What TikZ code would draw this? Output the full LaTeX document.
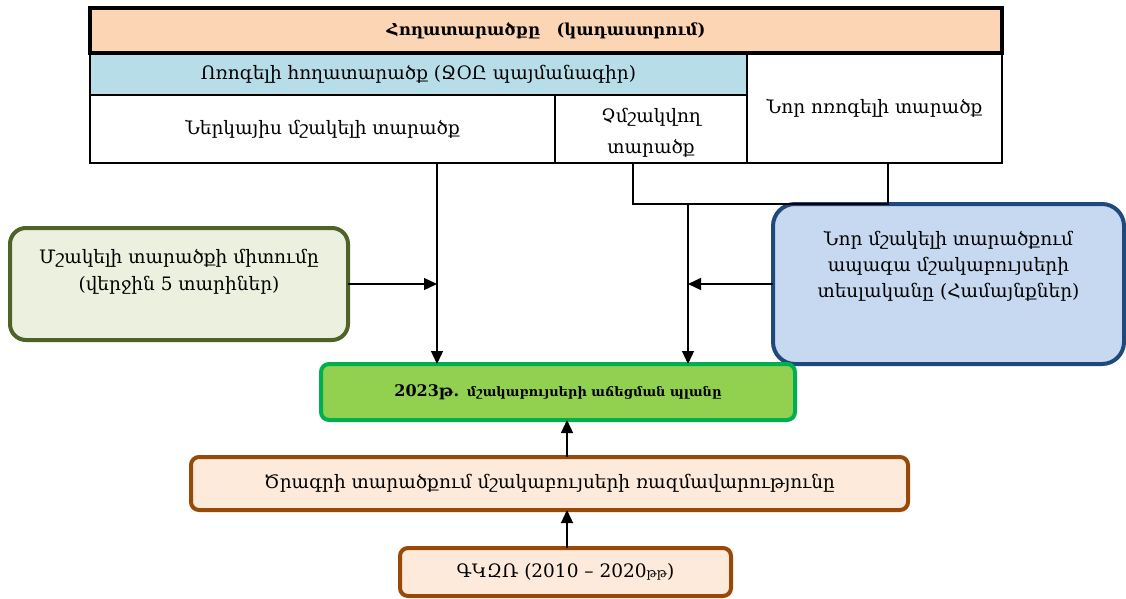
\documentclass[tikz,border=0pt]{standalone}
\usepackage{fontspec}
\setmainfont{DejaVu Serif}
\usetikzlibrary{arrows.meta}
\definecolor{peach}{HTML}{FCD5B4}
\definecolor{lblue}{HTML}{B7DEE8}
\definecolor{trendfill}{HTML}{EBF1DE}
\definecolor{trenddraw}{HTML}{4F6228}
\definecolor{visfill}{HTML}{C6D9F1}
\definecolor{visdraw}{HTML}{1F497D}
\definecolor{planfill}{HTML}{92D050}
\definecolor{plandraw}{HTML}{00B050}
\definecolor{stratfill}{HTML}{FDEADA}
\definecolor{stratdraw}{HTML}{984807}
\begin{document}
\begin{tikzpicture}[x=1pt,y=-1pt,
  every node/.style={inner sep=0pt,outer sep=0pt,font=\fontsize{18.5}{26.5}\selectfont},
  cell/.style={draw=black,line width=1.2pt,anchor=north west,align=center},
  rbox/.style={anchor=north west,line width=4pt,rounded corners=10pt,align=center},
  arr/.style={line width=1.3pt,-{Triangle[length=13pt,width=12pt]}},
  conn/.style={line width=1.3pt}]
\useasboundingbox (0,0) rectangle (1126,599);
% table
\node[cell,fill=lblue,minimum width=657pt,minimum height=42pt] (irr) at (90,53) {Ոռոգելի հողատարածք (ՋՕԸ պայմանագիր)};
\node[cell,minimum width=255pt,minimum height=110pt] (newirr) at (747,53) {Նոր ոռոգելի տարածք};
\node[cell,minimum width=465pt,minimum height=68pt] (cur) at (90,95) {Ներկայիս մշակելի տարածք};
\node[cell,minimum width=192pt,minimum height=68pt] (uncult) at (555,95) {};
\node[align=center,font=\fontsize{18.5}{31}\selectfont] (unculttext) at ([yshift=-4pt]uncult.center) {Չմշակվող\\տարածք};
\node[cell,line width=4pt,fill=peach,minimum width=912pt,minimum height=45pt,font=\fontsize{16.5}{20}\selectfont\bfseries] (hdr) at (90,8) {Հողատարածքը\quad (կադաստրում)};
% boxes
\node[rbox,draw=trenddraw,fill=trendfill,rounded corners=16pt,minimum width=338pt,minimum height=112pt] (trend) at (10,228) {};
\node[align=center,font=\fontsize{18.5}{27}\selectfont] (trendtext) at ([yshift=12pt]trend.center) {Մշակելի տարածքի միտումը\\(վերջին 5 տարիներ)};
\node[rbox,draw=visdraw,fill=visfill,rounded corners=22pt,minimum width=351pt,minimum height=160pt] (vision) at (773,204) {};
\node[align=center,font=\fontsize{18.5}{26}\selectfont] (vistext) at ([yshift=18pt]vision.center) {Նոր մշակելի տարածքում\\ապագա մշակաբույսերի\\տեսլականը (Համայնքներ)};
\node[rbox,draw=plandraw,fill=planfill,rounded corners=8pt,minimum width=474pt,minimum height=56pt] (plan) at (321,364) {{\bfseries\fontsize{16}{20}\selectfont 2023թ.} {\bfseries\fontsize{13}{16}\selectfont մշակաբույսերի աճեցման պլանը}};
\node[rbox,draw=stratdraw,fill=stratfill,rounded corners=8pt,minimum width=717pt,minimum height=53pt] (strat) at (191,457) {Ծրագրի տարածքում մշակաբույսերի ռազմավարությունը};
\node[rbox,draw=stratdraw,fill=stratfill,rounded corners=8pt,minimum width=331pt,minimum height=48pt] (gkzr) at (400,548) {ԳԿԶՌ (2010 – 2020{\fontsize{13}{15}\selectfont թթ})};
% connectors
\path (cur.south west) ++(347,0) coordinate (p1);
\draw[arr] (p1) -- (p1 |- plan.north);
\path (uncult.south west) ++(78,0) coordinate (b1);
\path (newirr.south west) ++(141,0) coordinate (b2);
\coordinate (j) at (688,204);
\draw[conn] (b1) |- (j) -| (b2);
\draw[arr] (j) -- (j |- plan.north);
\draw[arr] (trend.east) -- (trend.east -| p1);
\draw[arr] (vision.west) -- (vision.west -| j);
\coordinate (c) at (567,0);
\draw[arr] (c |- gkzr.north) -- (c |- strat.south);
\draw[arr] (c |- strat.north) -- (c |- plan.south);
\end{tikzpicture}
\end{document}
